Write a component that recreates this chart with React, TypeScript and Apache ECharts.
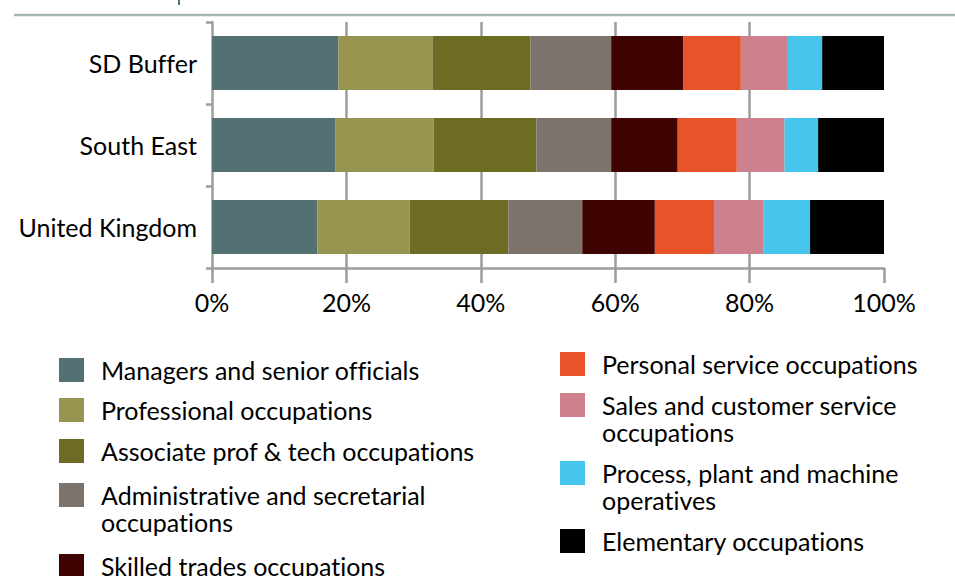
import React, { useEffect, useRef } from "react";
import * as echarts from "echarts";

const regions = ["SD Buffer", "South East", "United Kingdom"];
const occupations = [
  "Managers and senior officials",
  "Professional occupations",
  "Associate prof & tech occupations",
  "Administrative and secretarial occupations",
  "Skilled trades occupations",
  "Personal service occupations",
  "Sales and customer service occupations",
  "Process, plant and machine operatives",
  "Elementary occupations",
];
// Legend text as wrapped in the reference
const legendLabels = [
  "Managers and senior officials",
  "Professional occupations",
  "Associate prof & tech occupations",
  "Administrative and secretarial\noccupations",
  "Skilled trades occupations",
  "Personal service occupations",
  "Sales and customer service\noccupations",
  "Process, plant and machine\noperatives",
  "Elementary occupations",
];
// share of employment (%) per occupation, in order above
const sdBuffer = [18.8, 14.0, 14.6, 12.0, 10.7, 8.6, 7.0, 5.1, 9.2];
const southEast = [18.4, 14.6, 15.3, 11.1, 9.9, 8.8, 7.1, 5.0, 9.8];
const unitedKingdom = [15.7, 13.7, 14.7, 11.0, 10.8, 8.8, 7.4, 6.9, 11.0];
const xMin = 0;
const xMax = 100;
const xStep = 20;

const colors = [
  "#537173",
  "#97944f",
  "#6e6c24",
  "#7c736d",
  "#3f0401",
  "#e9532a",
  "#cc818d",
  "#46c6ec",
  "#000000",
];

// legend layout: [left, icon centre y]
const legendPos = [
  [59, 370],
  [59, 410],
  [59, 451],
  [59, 495],
  [59, 566],
  [560, 364],
  [560, 405],
  [560, 473],
  [560, 541],
];

const FONT = "Lato, 'Open Sans', sans-serif";
const FS = 25;
const LH = 27;
const PADB = 4;

export default function App() {
  const ref = useRef<HTMLDivElement>(null);
  useEffect(() => {
    if (!ref.current) return;
    const chart = echarts.init(ref.current, null, { renderer: "svg" });
    const byRegion = [sdBuffer, southEast, unitedKingdom];
    const series = occupations.map((name, i) => ({
      name,
      type: "bar",
      stack: "total",
      barWidth: 54,
      itemStyle: { color: colors[i] },
      data: byRegion.map((r) => r[i]),
    }));
    const legends = occupations.map((name, i) => {
      const lines = legendLabels[i].split("\n").length;
      const [left, cy] = legendPos[i];
      const extra = (lines - 1) * LH;
      const label = lines > 1 ? " \n" + legendLabels[i] : legendLabels[i];
      return {
        data: [name],
        left,
        top: cy - (LH + PADB) / 2 - extra,
        padding: 0,
        icon: "rect",
        itemWidth: 25,
        itemHeight: 24,
        selectedMode: false,
        formatter: () => label,
        textStyle: {
          fontFamily: FONT,
          fontSize: FS,
          color: "#000",
          lineHeight: LH,
          padding: [0, 0, PADB, 12],
        },
      };
    });
    chart.setOption({
      animation: false,
      color: colors,
      grid: { left: 212, right: 71, top: 22, bottom: 308, containLabel: false },
      xAxis: {
        type: "value",
        min: xMin,
        max: xMax,
        interval: xStep,
        axisLine: { show: true, lineStyle: { color: "#9d9d9d", width: 2.5 } },
        axisTick: { show: true, length: 15, lineStyle: { color: "#9d9d9d", width: 2.5 } },
        splitLine: { show: true, showMinLine: false, showMaxLine: false, lineStyle: { color: "#9d9d9d", width: 2.5 } },
        axisLabel: {
          formatter: "{value}%",
          fontFamily: FONT,
          fontSize: FS,
          color: "#000",
          margin: 21,
        },
      },
      yAxis: {
        type: "category",
        data: regions,
        inverse: true,
        axisLine: { show: true, lineStyle: { color: "#9d9d9d", width: 2.5 } },
        axisTick: { show: true, length: 6, lineStyle: { color: "#9d9d9d", width: 2.5 } },
        axisLabel: {
          fontFamily: FONT,
          fontSize: FS,
          color: "#000",
          margin: 15,
        },
      },
      legend: legends,
      graphic: [
        {
          type: "line",
          shape: { x1: 14, y1: 15, x2: 955, y2: 15 },
          style: { stroke: "#a6b6b3", lineWidth: 2.5 },
        },
        {
          type: "rect",
          shape: { x: 178, y: 0, width: 2, height: 5 },
          style: { fill: "#4d7470" },
        },
      ],
      series,
    });
    return () => chart.dispose();
  }, []);
  return (
    <>
      <style>{"text { font-variant-ligatures: none !important; font-feature-settings: 'liga' 0, 'clig' 0 !important; }"}</style>
      <div
        ref={ref}
        style={{ position: "fixed", left: 0, top: 0, width: 955, height: 576, background: "#fff" }}
      />
    </>
  );
}
